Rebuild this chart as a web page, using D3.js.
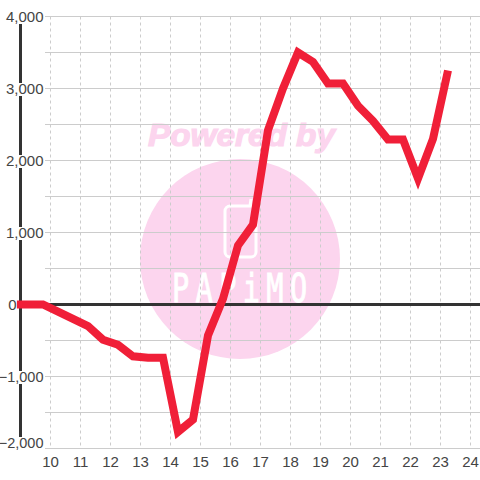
<!DOCTYPE html>
<html><head><meta charset="utf-8">
<script src="https://cdn.jsdelivr.net/npm/d3@7/dist/d3.min.js"></script>
<style>html,body{margin:0;padding:0;background:#fff}svg{display:block}</style></head>
<body><svg id="c" width="480" height="480"></svg>
<script>
const hours=[8.88,9.75,10.25,10.75,11.25,11.75,12.25,12.75,13.25,13.75,14.25,14.75,15.25,15.75,16.25,16.75,17.25,17.75,18.25,18.75,19.25,19.75,20.25,20.75,21.25,21.75,22.25,22.75,23.25];
const diffs=[0,0,-100,-200,-300,-490,-560,-720,-740,-740,-1770,-1600,-430,80,820,1110,2420,3000,3500,3370,3070,3070,2760,2550,2290,2290,1750,2300,3250];
const xTicks=[10,11,12,13,14,15,16,17,18,19,20,21,22,23,24];
const yMajor=[4000,3000,2000,1000,0,-1000,-2000];
const yMinor=[3500,2500,1500,500,-500,-1500];
const watermarkTop="Powered by";
const watermarkName="PAPiMO";

const svg=d3.select("#c");
const x=d3.scaleLinear().domain([9,24]).range([20.5,470.5]);
const y=d3.scaleLinear().domain([-2000,4000]).range([448.5,16.5]);
const font="'Liberation Sans',Arial,sans-serif";
const pink="#fcd5ee";

// watermark
const wm=svg.append("g");
wm.append("text").attr("x",148).attr("y",146)
  .attr("font-family",font).attr("font-weight",700).attr("font-style","italic")
  .attr("font-size",32).attr("textLength",187).attr("lengthAdjust","spacingAndGlyphs")
  .attr("fill",pink).attr("stroke",pink).attr("stroke-width",1.2).text(watermarkTop);
wm.append("circle").attr("cx",240).attr("cy",259).attr("r",100).attr("fill",pink);
wm.append("rect").attr("x",225).attr("y",206).attr("width",31).attr("height",51).attr("rx",5)
  .attr("fill","none").attr("stroke","#fff").attr("stroke-width",3);
wm.append("path").attr("d",d3.line()([[250,206],[251,199]]))
  .attr("fill","none").attr("stroke","#fff").attr("stroke-width",3);
wm.append("text").attr("transform","translate(172,302) scale(1.3,1.75)")
  .attr("font-family","'DejaVu Sans Mono',monospace").attr("font-size",22)
  .attr("textLength",104).attr("lengthAdjust","spacing")
  .attr("fill","#fff").attr("stroke","#fff").attr("stroke-width",0.5).text(watermarkName);

// grid
const grid=svg.append("g");
grid.selectAll(".v").data(xTicks).join("line").attr("class","v")
  .attr("x1",d=>x(d)).attr("x2",d=>x(d)).attr("y1",y(4000)).attr("y2",y(-2000))
  .attr("stroke","#cccccc").attr("stroke-width",1).attr("stroke-dasharray","3 3");
grid.selectAll(".h").data(yMajor.concat(yMinor).filter(d=>d!==0)).join("line").attr("class","h")
  .attr("x1",45).attr("x2",480).attr("y1",d=>y(d)).attr("y2",d=>y(d))
  .attr("stroke","#cccccc").attr("stroke-width",1);

// axis lines
svg.append("line").attr("x1",x(9)).attr("x2",x(9)).attr("y1",y(4000)).attr("y2",y(-2000))
  .attr("stroke","#333").attr("stroke-width",3);
svg.append("line").attr("x1",x(9)).attr("x2",480).attr("y1",y(0)).attr("y2",y(0))
  .attr("stroke","#333").attr("stroke-width",3);

// y labels with a white backing
const fmt=d3.format(",");
const yl=svg.append("g").selectAll("g").data(yMajor).join("g")
  .attr("transform",d=>`translate(${d===0?16.5:43.5},${y(d)-(d===-2000?6:0)})`);
yl.filter(d=>d!==0).append("rect").attr("x",-38).attr("y",-5.5).attr("width",38).attr("height",13).attr("fill","#fff");
yl.append("text").attr("text-anchor","end").attr("y",5.5)
  .attr("font-family",font).attr("font-size",d=>d<0?14.5:15).attr("fill","#444").text(d=>fmt(d));

// x labels
svg.append("g").selectAll("text").data(xTicks).join("text")
  .attr("x",d=>x(d)).attr("y",466.5).attr("text-anchor","middle")
  .attr("font-family",font).attr("font-size",15).attr("fill","#444").text(d=>d);

// series
const line=d3.line().x((d,i)=>x(hours[i])).y(d=>y(d));
svg.append("path").attr("d",line(diffs)).attr("fill","none")
  .attr("stroke","#f01f38").attr("stroke-width",8).attr("stroke-linejoin","miter")
  .attr("stroke-linecap","butt");
</script></body></html>
